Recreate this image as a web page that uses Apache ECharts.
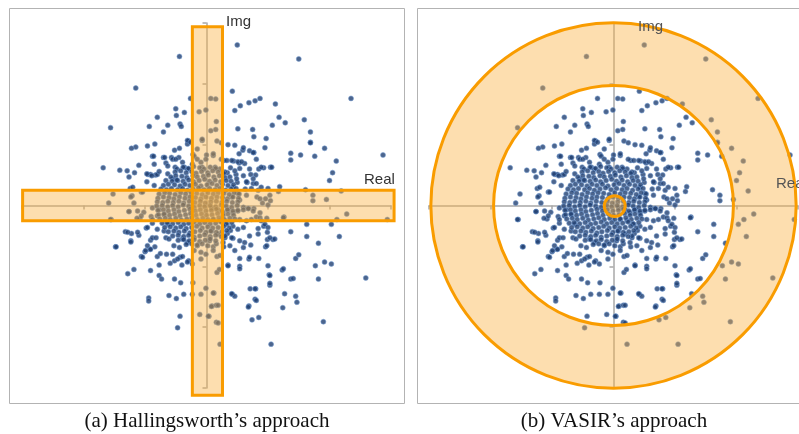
<!DOCTYPE html>
<html><head><meta charset="utf-8">
<script src="https://cdn.jsdelivr.net/npm/echarts@6/dist/echarts.min.js"></script>
<style>html,body{margin:0;padding:0;background:#fff}#c{width:799px;height:434px}</style>
</head><body><div id="c"></div>
<script>
// ---- data (Real, Img) in axis units ----
const outerPts = [
[0.50,2.64],[-0.44,2.45],[1.50,2.41],[-1.15,1.93],[2.35,1.76],[-1.56,1.28],[1.59,1.41],[1.69,1.21],[1.69,1.04],[1.92,0.94],
[2.87,0.83],[2.11,0.73],[2.05,0.54],[2.19,0.24],[2.00,0.41],[1.95,0.10],[2.28,-0.14],[2.12,-0.23],[2.03,-0.31],[2.94,-0.23],
[2.16,-0.51],[2.03,-0.96],[1.92,-0.93],[1.77,-0.99],[1.82,-1.21],[2.59,-1.19],[1.45,-1.49],[1.47,-1.59],[1.24,-1.68],[1.90,-1.91],
[0.85,-1.84],[0.74,-1.88],[-0.47,-2.01],[0.22,-2.28],[1.05,-2.28]
];
const innerPts = [
[0.42,1.88],[-0.26,1.76],[0.07,1.76],[0.15,1.75],[0.87,1.76],[0.79,1.72],[0.69,1.69],[0.55,1.64],[0.46,1.56],[1.12,1.67],
[-0.50,1.59],[-0.36,1.53],[-0.12,1.54],[-0.01,1.57],[-0.49,1.48],[-0.80,1.45],[1.18,1.45],[0.16,1.38],[-0.43,1.34],[-0.41,1.30],
[-0.63,1.32],[-0.93,1.30],[1.28,1.36],[1.07,1.32],[0.07,1.23],[0.15,1.25],[0.51,1.26],[0.75,1.25],[0.77,1.13],[0.97,1.10],
[-0.70,1.21],[-0.84,1.01],[-0.96,0.98],[-1.15,0.96],[-1.22,0.94],[-0.29,1.06],[-0.31,1.01],[-0.07,1.07],[0.17,1.06],[0.24,1.03],
[0.35,1.00],[0.46,0.99],[0.59,0.91],[0.77,0.87],[0.53,0.85],[1.37,0.86],[1.37,0.75],[1.53,0.83],[1.76,0.81],[1.69,1.03],
[-0.88,0.81],[-0.70,0.79],[-0.57,0.79],[-0.45,0.79],[-0.22,0.84],[0.00,0.83],[0.11,0.82],[0.28,0.74],[0.44,0.73],[0.53,0.70],
[0.62,0.69],[-1.10,0.66],[-1.29,0.57],[-1.17,0.54],[-1.68,0.62],[-1.41,0.58],[-0.66,0.70],[-0.51,0.63],[1.04,0.63],[0.93,0.62],
[0.85,0.60],[0.72,0.51],[0.80,0.50],[0.66,0.38],[0.76,0.36],[0.63,0.27],[0.39,0.62],[0.34,0.54],[0.48,0.51],[0.50,0.38],
[1.19,0.31],[1.17,0.23],[1.61,0.26],[1.73,0.17],[1.73,0.08],[-0.95,0.51],[-0.91,0.51],[-0.83,0.50],[-1.26,0.47],[-1.24,0.28],
[-1.52,0.19],[-1.59,0.04],[-1.21,0.16],[-1.06,0.22],[-1.18,0.04],[-1.26,-0.10],[-1.02,-0.11],[-1.55,-0.23],[-1.08,-0.22],[-0.90,-0.18],
[-0.88,-0.29],[-1.32,-0.43],[-1.22,-0.46],[-0.98,-0.37],[-1.10,-0.49],[-1.48,-0.68],[-1.23,-0.58],[-0.91,-0.57],[-1.06,-0.84],[-1.00,-0.76],
[-0.92,-0.72],[-0.84,-0.68],[-0.80,-0.84],[-0.75,-0.79],[-1.28,-1.12],[-1.18,-1.05],[-0.91,-1.07],[-0.77,-0.98],[-0.77,-1.15],[-0.73,-1.21],
[-0.65,-0.80],[-0.59,-0.95],[-0.52,-0.91],[-0.43,-0.85],[-0.40,-0.98],[-0.29,-0.91],[-0.52,-1.21],[-0.42,-1.27],[-0.22,-1.27],[-0.94,-1.52],
[-0.94,-1.57],[-0.61,-1.48],[-0.49,-1.53],[-0.37,-1.46],[-0.23,-1.46],[-0.09,-1.46],[-0.01,-1.36],[0.12,-1.44],[-0.43,-1.82],[-0.11,-1.79],
[0.04,-1.82],[0.09,-1.65],[0.16,-1.64],[0.16,-1.92],[0.42,-1.46],[0.46,-1.49],[0.35,-0.98],[0.17,-1.10],[0.21,-1.05],[0.54,-1.00],
[0.54,-0.87],[0.69,-0.88],[0.85,-0.87],[0.69,-1.65],[0.79,-1.54],[0.71,-1.37],[0.80,-1.37],[1.02,-1.14],[1.03,-1.31],[1.23,-1.06],
[1.37,-1.21],[1.27,-1.45],[1.45,-0.87],[1.50,-0.81],[1.37,-0.43],[1.63,-0.51],[1.63,-0.31],[1.82,-0.62],[1.08,-0.56],[0.99,-0.56],
[0.96,-0.68],[0.72,-0.65],[0.60,-0.69],[0.70,-0.50],[0.84,-0.38],[0.93,-0.34],[0.99,-0.44],[1.26,-0.19],[0.98,-0.21],[0.81,-0.19],
[0.87,-0.12],[0.77,-0.05],[0.68,-0.05],[0.60,-0.03],[1.00,0.01],[0.91,0.04],[0.82,0.14],[0.96,0.11],[1.04,0.08],[0.39,-0.41],
[0.34,-0.46],[0.43,-0.54],[0.30,-0.53],[0.28,-0.68],[0.17,-0.84],[0.11,-0.68]
];
const midPts = [
[-0.52,0.91],[-0.44,0.94],[-0.68,0.79],[-0.55,0.76],[-0.50,0.76],[-0.63,0.65],[-0.86,0.81],[-0.85,0.68],[-0.97,0.52],[-0.89,0.49],
[-0.80,0.51],[-0.77,0.56],[-0.63,0.52],[-0.97,0.39],[-0.85,0.33],[-1.04,0.22],[-1.20,0.30],[-1.23,0.14],[-0.39,0.71],[-0.36,0.63],
[-0.31,0.60],[-0.23,0.68],[-0.20,0.81],[-0.15,0.76],[-0.09,0.71],[-0.07,0.63],[-0.31,1.07],[-0.26,1.04],[-0.07,1.09],[-0.15,0.93],
[-0.01,0.76],[-0.48,0.60],[-0.55,0.44],[-0.47,0.41],
[0.11,0.85],[0.24,0.76],[0.33,0.74],[0.41,0.74],[0.51,0.72],[0.57,0.72],[0.14,0.63],[0.22,0.60],[0.30,0.55],[0.46,0.57],
[0.54,0.61],[0.70,0.60],[0.38,0.47],[0.49,0.44],[0.60,0.49],[0.65,0.39],[0.76,0.44],[0.81,0.36],[0.73,0.28],[0.84,0.25],
[0.89,0.30],[1.00,0.28],[1.03,0.17],[0.43,0.30],[0.51,0.20],[0.65,0.17],[0.41,0.14],[0.54,0.09],[0.87,0.11],[0.95,0.95],
[0.81,0.76],[0.89,0.63],[1.06,0.63],[0.60,0.95],[0.70,0.90],[0.76,0.87],
[-0.88,-0.04],[-0.77,-0.07],[-0.80,-0.17],[-0.69,-0.15],[-0.88,-0.23],[-0.96,-0.36],[-0.80,-0.39],[-0.69,-0.42],[-0.63,-0.31],[-0.88,-0.53],
[-0.82,-0.53],[-0.66,-0.53],[-0.61,-0.55],[-0.53,-0.66],[-0.44,-0.69],[-0.31,-0.61],[-0.39,-0.55],[-0.15,-0.66],[-0.20,-0.74],[-0.09,-0.77],
[-0.55,-0.80],[-0.39,-0.84],[-0.47,-0.88],[-0.31,-0.93],[-0.23,-0.96],[-0.09,-0.88],[-0.01,-0.80],[-0.96,-0.66],[-0.99,-0.74],[-0.91,-0.72],
[-1.04,-0.85],[-1.28,-0.44],[-1.23,-0.60],[-1.12,-0.44],[-1.47,-0.68],[-1.56,-0.23],[-1.26,-0.10],[-1.12,-0.09],[-1.13,-0.21],[-1.06,-0.17],
[0.08,-0.04],[0.19,-0.07],[0.27,-0.12],[0.35,-0.07],[0.43,-0.12],[0.51,-0.09],[0.60,-0.07],[0.68,-0.05],[0.76,-0.09],[0.54,-0.23],
[0.65,-0.25],[0.73,-0.23],[0.87,-0.20],[0.89,-0.25],[0.95,-0.31],[0.11,-0.23],[0.22,-0.25],[0.33,-0.31],[0.43,-0.34],[0.51,-0.39],
[0.60,-0.36],[0.08,-0.42],[0.19,-0.47],[0.30,-0.50],[0.41,-0.53],[0.54,-0.58],[0.62,-0.61],[0.05,-0.58],[0.16,-0.63],[0.27,-0.61],
[0.38,-0.66],[0.46,-0.74],[0.11,-0.74],[0.22,-0.82],[0.70,-0.85],[0.84,-0.47],[1.03,-0.53],[0.98,-0.66],[1.11,-0.55],[1.00,-0.36],
[1.25,-0.20],[1.03,-1.28],[1.03,-1.15],[0.79,-1.37],[0.81,-1.56],[0.68,-1.67],[1.41,-1.20],[1.25,-1.04],[1.00,-0.99],[0.54,-1.04],
[0.35,-0.99],[0.41,-1.45],[0.11,-1.44],[0.19,-1.64],[0.08,-1.66],[0.03,-1.82],[0.19,-1.93]
];
const corePts = [
[-0.38,0.63],[-0.29,0.61],[-0.21,0.64],[-0.11,0.62],[-0.04,0.60],[0.06,0.63],[0.15,0.61],
[-0.51,0.55],[-0.42,0.57],[-0.33,0.54],[-0.24,0.56],[-0.17,0.53],[-0.08,0.56],[0.02,0.54],[0.10,0.57],[0.19,0.55],[0.28,0.53],
[-0.58,0.47],[-0.50,0.49],[-0.40,0.48],[-0.32,0.46],[-0.22,0.49],[-0.15,0.47],[-0.05,0.48],[0.03,0.50],[0.12,0.47],[0.21,0.49],[0.30,0.46],
[-0.66,0.41],[-0.56,0.40],[-0.48,0.42],[-0.38,0.40],[-0.29,0.42],[-0.21,0.39],[-0.12,0.41],[-0.03,0.43],[0.05,0.40],[0.14,0.42],[0.23,0.39],[0.32,0.41],[0.40,0.40],
[-0.70,0.33],[-0.62,0.35],[-0.52,0.34],[-0.43,0.32],[-0.35,0.35],[-0.27,0.33],[-0.18,0.35],[-0.09,0.32],[0.01,0.34],[0.09,0.36],[0.17,0.33],[0.26,0.35],[0.35,0.33],[0.44,0.34],
[-0.74,0.27],[-0.65,0.26],[-0.57,0.28],[-0.47,0.26],[-0.39,0.28],[-0.31,0.25],[-0.22,0.27],[-0.13,0.29],[-0.04,0.26],[0.05,0.28],[0.14,0.26],[0.22,0.28],[0.31,0.25],[0.40,0.27],[0.48,0.28],
[-0.77,0.19],[-0.68,0.21],[-0.60,0.20],[-0.51,0.18],[-0.42,0.21],[-0.34,0.19],[-0.25,0.21],[-0.16,0.20],[-0.07,0.18],[0.02,0.21],[0.11,0.19],[0.19,0.21],[0.28,0.20],[0.37,0.18],[0.45,0.21],[0.53,0.19],
[-0.79,0.12],[-0.70,0.14],[-0.61,0.13],[-0.53,0.11],[-0.44,0.14],[-0.35,0.12],[-0.27,0.14],[-0.18,0.13],[-0.09,0.11],[-0.01,0.14],[0.08,0.12],[0.17,0.14],[0.26,0.13],[0.34,0.11],[0.43,0.14],[0.52,0.12],
[-0.80,0.06],[-0.71,0.05],[-0.63,0.07],[-0.54,0.05],[-0.45,0.07],[-0.37,0.04],[-0.28,0.07],[-0.19,0.05],[-0.10,0.07],[-0.02,0.04],[0.07,0.06],[0.16,0.07],[0.25,0.05],[0.33,0.07],[0.42,0.05],[0.51,0.06],
[-0.81,-0.01],[-0.72,0.00],[-0.63,-0.02],[-0.55,0.00],[-0.46,-0.02],[-0.38,0.01],[-0.29,-0.01],[-0.20,-0.03],[-0.11,0.00],[-0.03,-0.02],[0.06,0.00],[0.15,-0.02],[0.24,0.01],[0.32,-0.01],[0.41,-0.03],[0.50,0.00],
[-0.79,-0.08],[-0.70,-0.07],[-0.62,-0.09],[-0.53,-0.07],[-0.45,-0.10],[-0.36,-0.08],[-0.27,-0.06],[-0.18,-0.09],[-0.10,-0.07],[-0.01,-0.09],[0.08,-0.08],[0.16,-0.06],[0.25,-0.09],[0.34,-0.07],[0.43,-0.09],[0.51,-0.08],
[-0.78,-0.15],[-0.69,-0.14],[-0.60,-0.16],[-0.52,-0.14],[-0.43,-0.17],[-0.34,-0.15],[-0.26,-0.13],[-0.17,-0.16],[-0.08,-0.14],[0.00,-0.16],[0.09,-0.15],[0.18,-0.13],[0.27,-0.16],[0.35,-0.14],[0.44,-0.16],
[-0.76,-0.22],[-0.67,-0.21],[-0.59,-0.23],[-0.50,-0.21],[-0.41,-0.24],[-0.32,-0.22],[-0.24,-0.20],[-0.15,-0.23],[-0.06,-0.21],[0.02,-0.23],[0.11,-0.22],[0.20,-0.20],[0.29,-0.23],[0.38,-0.21],[0.46,-0.22],
[-0.72,-0.29],[-0.64,-0.28],[-0.55,-0.30],[-0.46,-0.28],[-0.37,-0.31],[-0.29,-0.29],[-0.20,-0.27],[-0.11,-0.30],[-0.03,-0.28],[0.06,-0.30],[0.15,-0.29],[0.24,-0.27],[0.32,-0.30],[0.41,-0.28],
[-0.68,-0.36],[-0.59,-0.35],[-0.50,-0.37],[-0.42,-0.35],[-0.33,-0.38],[-0.24,-0.36],[-0.16,-0.34],[-0.07,-0.37],[0.02,-0.35],[0.10,-0.37],[0.19,-0.36],[0.28,-0.34],[0.37,-0.37],
[-0.62,-0.43],[-0.53,-0.42],[-0.45,-0.44],[-0.36,-0.42],[-0.27,-0.45],[-0.19,-0.43],[-0.10,-0.41],[-0.01,-0.44],[0.07,-0.42],[0.16,-0.44],[0.25,-0.43],[0.33,-0.41],
[-0.55,-0.50],[-0.46,-0.49],[-0.37,-0.51],[-0.29,-0.49],[-0.20,-0.52],[-0.11,-0.50],[-0.03,-0.48],[0.06,-0.51],[0.15,-0.49],[0.24,-0.51],
[-0.46,-0.57],[-0.37,-0.56],[-0.28,-0.58],[-0.20,-0.56],[-0.11,-0.59],[-0.02,-0.57],[0.06,-0.55],[0.15,-0.58],
[-0.33,-0.64],[-0.24,-0.63],[-0.15,-0.65],[-0.07,-0.63],[0.02,-0.66]
];
const captions = ['(a) Hallingsworth\u2019s approach', '(b) VASIR\u2019s approach'];
const axisNames = ['Real', 'Img'];

// Region extents in data units
const vBar = {x0: -0.23, x1: 0.26, y0: -3.12, y1: 2.94};
const hBar = {x0: -2.99, x1: 3.05, y0: -0.25, y1: 0.25};
const ringR = {outer: 2.97, inner: 1.95};
const smallC = {cx: 0.02, cy: -0.01, r: 0.17};

const allPts = outerPts.concat(innerPts, midPts, corePts);

const ORANGE = '#f99c00';
const FILL = 'rgba(251,176,64,0.42)';
const DOT = {color: '#1f3f70', borderColor: 'rgba(120,160,214,0.95)', borderWidth: 0.7};

function rectShape(api, r) {
  const a = api.coord([r.x0, r.y0]);
  const b = api.coord([r.x1, r.y1]);
  return {x: a[0], y: b[1], width: b[0] - a[0], height: a[1] - b[1]};
}
function renderBars(params, api) {
  const rv = rectShape(api, vBar), rh = rectShape(api, hBar);
  return {type: 'group', children: [
    {type: 'rect', shape: rv, style: {fill: FILL}},
    {type: 'rect', shape: rh, style: {fill: FILL}},
    {type: 'rect', shape: rv, style: {fill: 'none', stroke: ORANGE, lineWidth: 3}},
    {type: 'rect', shape: rh, style: {fill: 'none', stroke: ORANGE, lineWidth: 3}}
  ]};
}
function renderRings(params, api) {
  const c = api.coord([0, 0]);
  const ro = api.size([ringR.outer, 0])[0];
  const ri = api.size([ringR.inner, 0])[0];
  const sc = api.coord([smallC.cx, smallC.cy]);
  const sr = api.size([smallC.r, 0])[0];
  return {type: 'group', children: [
    {type: 'ring', shape: {cx: c[0], cy: c[1], r: ro, r0: ri}, style: {fill: FILL}},
    {type: 'circle', shape: {cx: sc[0], cy: sc[1], r: sr}, style: {fill: FILL}},
    {type: 'circle', shape: {cx: c[0], cy: c[1], r: ro}, style: {fill: 'none', stroke: ORANGE, lineWidth: 3}},
    {type: 'circle', shape: {cx: c[0], cy: c[1], r: ri}, style: {fill: 'none', stroke: ORANGE, lineWidth: 3}},
    {type: 'circle', shape: {cx: sc[0], cy: sc[1], r: sr}, style: {fill: 'none', stroke: ORANGE, lineWidth: 3}}
  ]};
}

const axisLineStyle = {color: '#a8a8a8', width: 1.5};
function mkAxis(gridIndex) {
  return {
    gridIndex, type: 'value', min: -3, max: 3, interval: 1,
    axisLine: {show: true, onZero: true, lineStyle: axisLineStyle},
    axisTick: {show: true, length: 4, lineStyle: axisLineStyle},
    axisLabel: {show: false}, splitLine: {show: false}
  };
}

const chart = echarts.init(document.getElementById('c'), null, {renderer: 'canvas'});
chart.setOption({
  animation: false,
  backgroundColor: '#fff',
  grid: [
    {left: 22, top: 23, width: 369, height: 365},
    {left: 429, top: 23, width: 369, height: 365}
  ],
  xAxis: [mkAxis(0), mkAxis(1)],
  yAxis: [mkAxis(0), mkAxis(1)],
  graphic: [
    {type: 'rect', shape: {x: 9.5, y: 8.5, width: 395, height: 395}, style: {fill: 'none', stroke: '#b3b3b3', lineWidth: 1}, z: 0, silent: true},
    {type: 'rect', shape: {x: 417.5, y: 8.5, width: 400, height: 395}, style: {fill: 'none', stroke: '#b3b3b3', lineWidth: 1}, z: 0, silent: true},
    {type: 'text', left: 226, top: 14, z: 10, style: {text: axisNames[1], font: '15px "Liberation Sans", Arial, sans-serif', fill: '#333'}},
    {type: 'text', left: 364, top: 172, z: 10, style: {text: axisNames[0], font: '15px "Liberation Sans", Arial, sans-serif', fill: '#333'}},
    {type: 'text', left: 638, top: 19, z: 10, style: {text: axisNames[1], font: '15px "Liberation Sans", Arial, sans-serif', fill: '#555'}},
    {type: 'text', left: 776, top: 176, z: 10, style: {text: axisNames[0], font: '15px "Liberation Sans", Arial, sans-serif', fill: '#555'}},
    {type: 'text', x: 207, y: 421, z: 10, style: {text: captions[0], font: '21px "Liberation Serif", "Times New Roman", serif', fill: '#111', textAlign: 'center', textVerticalAlign: 'middle'}},
    {type: 'text', x: 614, y: 421, z: 10, style: {text: captions[1], font: '21px "Liberation Serif", "Times New Roman", serif', fill: '#111', textAlign: 'center', textVerticalAlign: 'middle'}}
  ],
  series: [
    {type: 'scatter', xAxisIndex: 0, yAxisIndex: 0, data: allPts, symbolSize: 5, itemStyle: DOT, z: 2, silent: true},
    {type: 'custom', xAxisIndex: 0, yAxisIndex: 0, data: [[0, 0]], renderItem: renderBars, clip: false, z: 3, silent: true},
    {type: 'scatter', xAxisIndex: 1, yAxisIndex: 1, data: allPts, symbolSize: 5, itemStyle: DOT, z: 2, silent: true},
    {type: 'custom', xAxisIndex: 1, yAxisIndex: 1, data: [[0, 0]], renderItem: renderRings, clip: false, z: 3, silent: true}
  ]
});
</script>
</body></html>
